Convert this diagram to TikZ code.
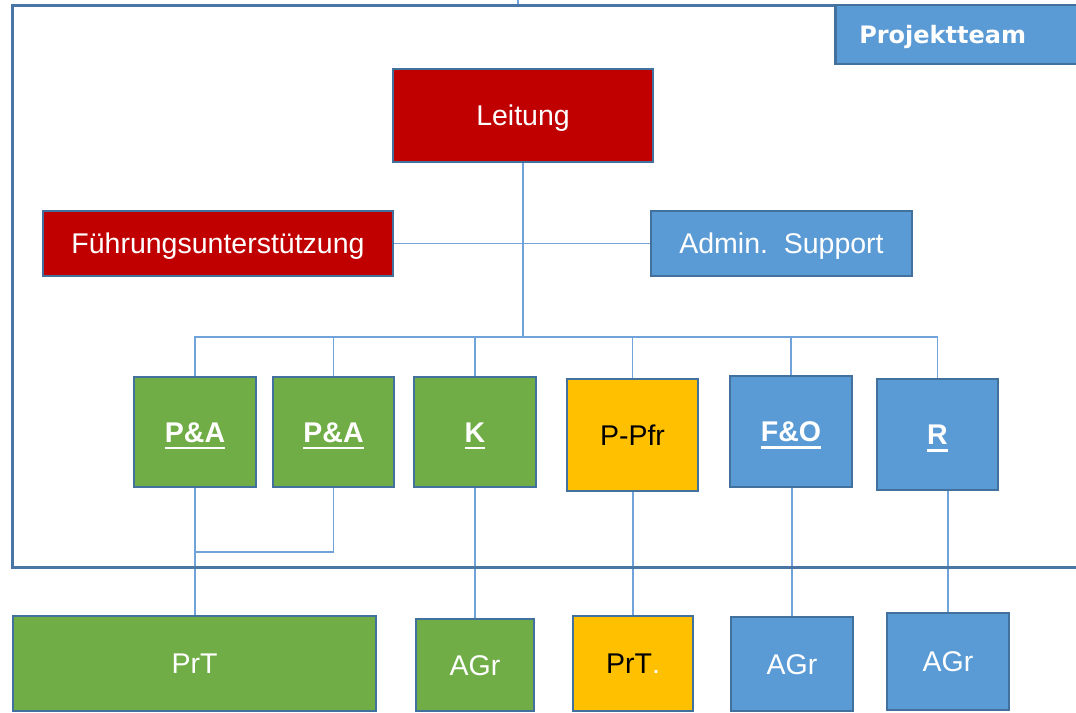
\documentclass[tikz,border=0pt]{standalone}
\usepackage{fontspec}
\setmainfont{Liberation Sans}
\newfontfamily\teamfont{DejaVu Sans}
\usetikzlibrary{backgrounds}

\definecolor{redc}{HTML}{C00000}
\definecolor{greenc}{HTML}{70AD47}
\definecolor{bluec}{HTML}{5B9BD5}
\definecolor{yellowc}{HTML}{FFC000}
\definecolor{boxedge}{HTML}{41719C}
\definecolor{framec}{HTML}{4A76A6}
\definecolor{linkblue}{HTML}{6FA3DA}

% bold label with a heavy underline
\newcommand\ulword[1]{\setbox0=\hbox{\bfseries #1}\dimen0=\wd0\relax
  \rlap{\box0}\rule[-7pt]{\dimen0}{2.3pt}}

\begin{document}
\begin{tikzpicture}[x=1pt,y=-1pt,
  orgbox/.style={draw=boxedge, line width=2.5pt, inner sep=0pt,
    text height=20pt, text depth=0pt, text=white,
    font=\fontsize{28.5}{30}\selectfont},
  link/.style={draw=linkblue, line width=1.5pt}]
\clip (0,0) rectangle (1076,712);

% ---------- units ----------
\node[orgbox, fill=redc, minimum width=260pt, minimum height=93pt] (lead) at (523,115.5) {Leitung};
\node[orgbox, fill=redc, minimum width=350pt, minimum height=65pt] (fu) at (218,243.5) {Führungsunterstützung};
\node[orgbox, fill=bluec, minimum width=261pt, minimum height=65pt] (adm) at (781.5,243.5) {Admin.\ \ Support};
\node[orgbox, fill=greenc, minimum width=122pt, minimum height=110pt] (pa1) at (195,432) {\ulword{P\&A}};
\node[orgbox, fill=greenc, minimum width=121pt, minimum height=110pt] (pa2) at (333.5,432) {\ulword{P\&A}};
\node[orgbox, fill=greenc, minimum width=122pt, minimum height=110pt] (k) at (475,432) {\ulword{K}};
\node[orgbox, fill=yellowc, text=black, minimum width=131pt, minimum height=112pt] (ppfr) at (632.5,435) {P-Pfr};
\node[orgbox, fill=bluec, minimum width=122pt, minimum height=111pt] (fo) at (791,431.5) {\ulword{F\&O}};
\node[orgbox, fill=bluec, minimum width=121pt, minimum height=111pt] (r) at (937.5,434.5) {\ulword{R}};
\node[orgbox, fill=greenc, minimum width=363pt, minimum height=95pt] (prt) at (194.5,663.5) {PrT};
\node[orgbox, fill=greenc, minimum width=118pt, minimum height=92pt] (agr1) at (475,665) {AGr};
\node[orgbox, fill=yellowc, text=black, minimum width=120pt, minimum height=95pt] (prt2) at (633,663.5) {PrT\textcolor{white}{.}};
\node[orgbox, fill=bluec, minimum width=122pt, minimum height=94pt] (agr2) at (792,664) {AGr};
\node[orgbox, fill=bluec, minimum width=122pt, minimum height=97pt] (agr3) at (948,661.5) {AGr};

% ---------- team label ----------
\node[draw=boxedge, line width=2.5pt, fill=bluec, anchor=west,
      inner xsep=24pt, inner ysep=0pt, text width=218pt, align=left,
      minimum height=59pt, text height=17.5pt, text depth=0pt, text=white,
      font=\teamfont\bfseries\fontsize{24}{26}\selectfont] (label) at (834,34.5) {Projektteam};

\begin{scope}[on background layer]
  % ---------- connectors ----------
  \coordinate (bus) at (524,337);
  \coordinate (join) at (195.6,552);
  \coordinate (up) at (518,-5);
  \draw[link] (lead.south) -- (lead.south |- bus);
  \draw[link] (fu.east) -- (adm.west);
  \draw[link] (pa1.north) |- (bus) -| (r.north);
  \draw[link] (pa2.north) -- (pa2.north |- bus);
  \draw[link] (k.north) -- (k.north |- bus);
  \draw[link] (ppfr.north) -- (ppfr.north |- bus);
  \draw[link] (fo.north) -- (fo.north |- bus);
  \draw[link] (pa1.south) -- (pa1.south |- prt.north);
  \draw[link] (pa2.south) |- (join);
  \draw[link] (k.south) -- (agr1.north);
  \draw[link] (ppfr.south -| prt2.north) -- (prt2.north);
  \draw[link] (fo.south -| agr2.north) -- (agr2.north);
  \draw[link] (r.south -| agr3.north) -- (agr3.north);

  % ---------- team frame ----------
  \node[draw=framec, line width=3pt, inner sep=0pt,
        minimum width=1078pt, minimum height=562.5pt] (team) at (551,286.25) {};
  \draw[link] (up) -- (up |- team.north);
\end{scope}
\end{tikzpicture}
\end{document}
